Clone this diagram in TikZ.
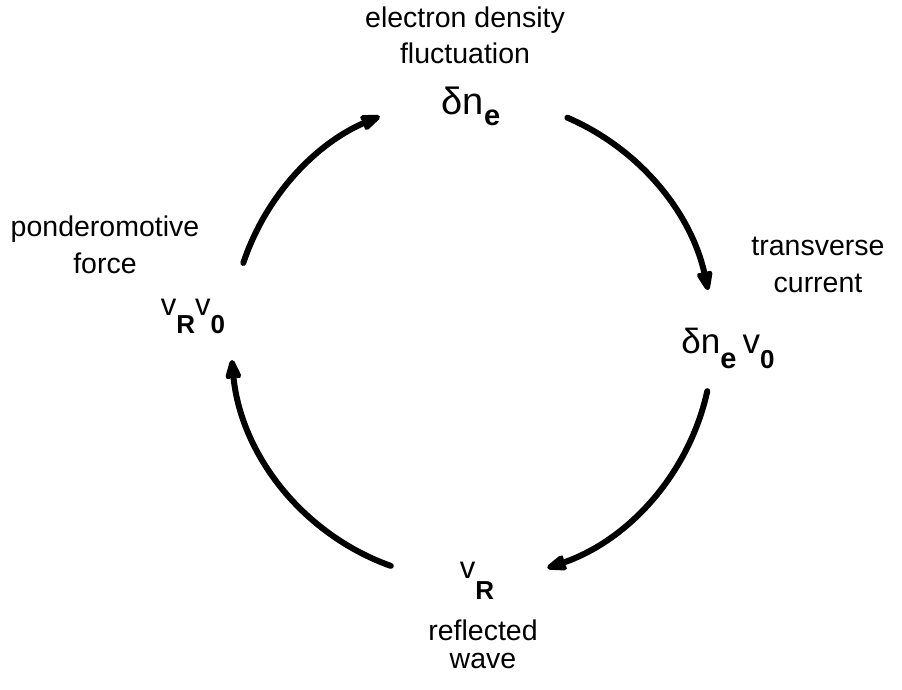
\documentclass[tikz,border=0pt]{standalone}
\usepackage{fontspec}
\setmainfont{Liberation Sans}
\usetikzlibrary{arrows.meta}
\newcommand{\fs}[2]{\fontsize{#1pt}{#2pt}\selectfont}
\newcommand{\lowsub}[3]{\raisebox{-#1pt}{\fs{#2}{#2}\bfseries #3}}
\tikzset{
  lbl/.style={font=\fs{28.5}{36.5}, align=center, inner sep=0pt, anchor=base},
  sym/.style={inner sep=0pt, anchor=base},
  cyc/.style={line width=6pt, line cap=round,
    -{Stealth[length=27pt,width=20pt,inset=6pt,round]}}
}
\begin{document}
\begin{tikzpicture}[x=1pt,y=1pt]
\useasboundingbox (0,0) rectangle (902,-690);
\coordinate (c) at (472,-339);
% symbols
\node[sym] (top) at (471,-115) {\fs{38}{38}δn\lowsub{10}{29}{e}};
\node[sym] (right) at (728,-353) {\fs{35}{35}δn\lowsub{15}{29}{e}\hspace{6pt}v\lowsub{15}{26}{0}};
\node[sym] (left) at (193,-315) {\fs{31}{31}v\lowsub{18}{26}{R}v\lowsub{18}{26}{0}};
\node[sym] (bottom) at (477,-578) {\fs{31}{31}v\lowsub{21}{26}{R}};
% labels
\node[lbl] (ltop) at (465,-64) {electron density\\fluctuation};
\node[lbl] (lright) at (818,-292) {transverse\\current};
\node[lbl] (lleft) at (105,-273) {ponderomotive\\force};
\node[lbl, font=\fs{28.5}{27.5}] (lbottom) at (483,-668) {reflected\\wave};
% arcs
\coordinate (a1) at ([shift={(66.7:241)}]c);
\coordinate (a2) at ([shift={(-12.5:241)}]c);
\coordinate (a3) at ([shift={(250.3:241)}]c);
\coordinate (a4) at ([shift={(161.6:241)}]c);
\draw[cyc] (a1) arc[start angle=66.7, end angle=11.7, radius=241];
\draw[cyc] (a2) arc[start angle=-12.5, end angle=-71.8, radius=241];
\draw[cyc] (a3) arc[start angle=250.3, end angle=185, radius=241];
\draw[cyc] (a4) arc[start angle=161.6, end angle=112.5, radius=241];
\end{tikzpicture}
\end{document}
